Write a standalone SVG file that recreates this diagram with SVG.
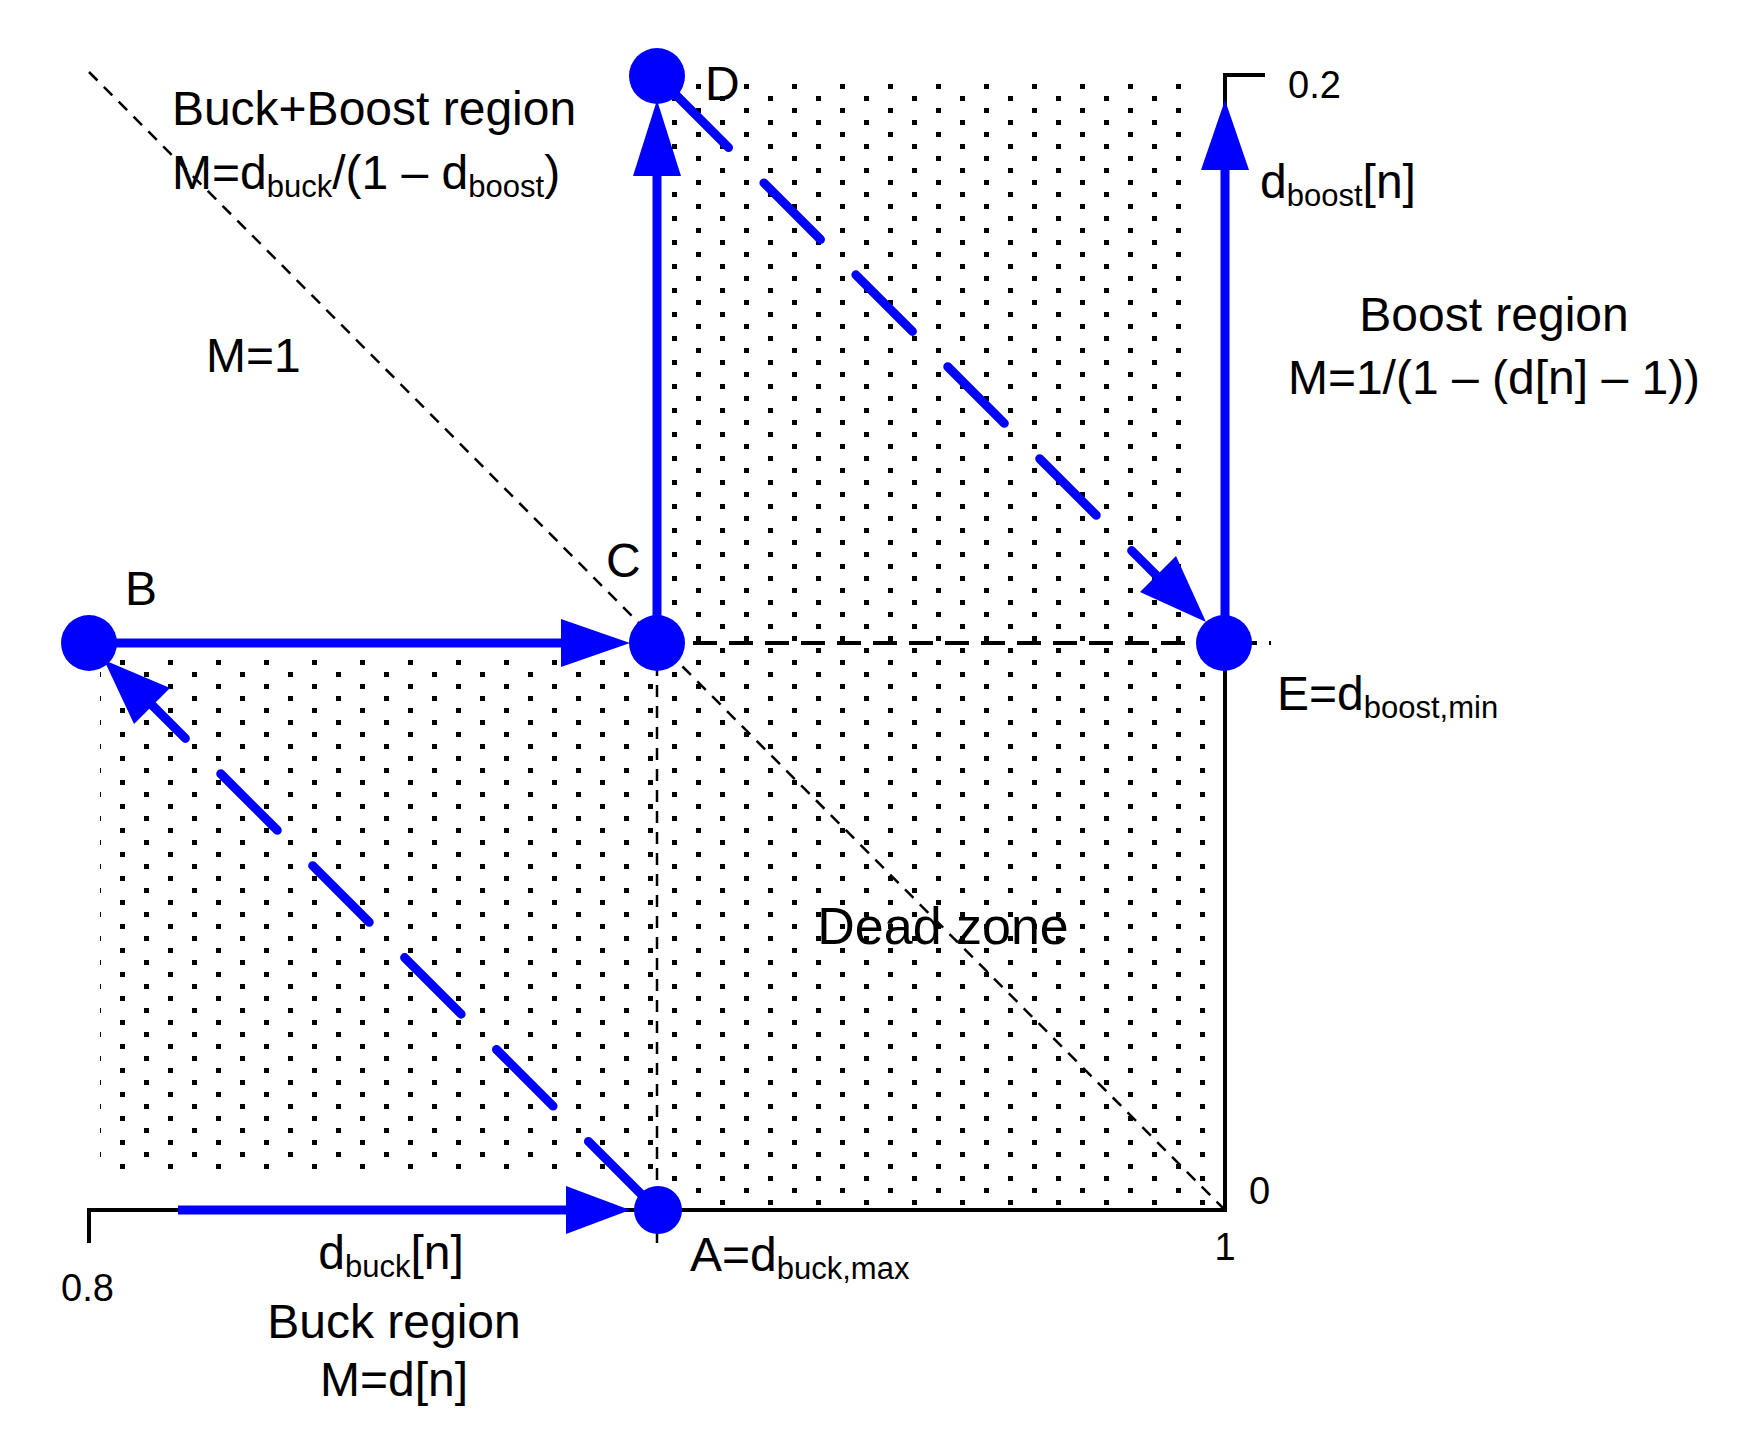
<svg xmlns="http://www.w3.org/2000/svg" width="1741" height="1441" viewBox="0 0 1741 1441">
<defs>
<pattern id="dots" x="0" y="0" width="48" height="24" patternUnits="userSpaceOnUse">
<rect x="0" y="0" width="5" height="5" fill="#000"/>
<rect x="24" y="12" width="5" height="5" fill="#000"/>
</pattern>
<style>
text{font-family:"Liberation Sans",Arial,sans-serif;fill:#000}
.t{font-size:48px}
.s{font-size:31px}
.bl{stroke:#0000ff;stroke-width:9;fill:none}
.bd{stroke:#0000ff;stroke-width:9;fill:none;stroke-dasharray:80 50;stroke-linecap:round}
.hd{fill:#0000ff}
.k{stroke:#000;stroke-width:4;fill:none}
.kd{stroke:#000;stroke-width:2.5;fill:none;stroke-dasharray:12 9}
.kd2{stroke:#000;stroke-width:4;fill:none;stroke-dasharray:24 12}
</style>
</defs>
<rect width="1741" height="1441" fill="#fff"/>
<g id="regions">
<rect x="100" y="655" width="558" height="516" fill="url(#dots)"/>
<rect x="664" y="78" width="520" height="565" fill="url(#dots)"/>
<rect x="664" y="643" width="548" height="562" fill="url(#dots)"/>
</g>
<g id="connectors">
<path class="kd" d="M89,72 L1225,1210"/>
<path class="kd2" d="M657,643 L1271,643"/>
<path class="kd" d="M657,643 L657,1249"/>
<path class="k" d="M89,1243 L89,1210 L1225,1210 L1225,643"/>
<path class="k" d="M1225,170 L1225,75 L1265,75"/>
<path class="bl" d="M657,643 L657,170"/>
<polygon class="hd" points="657,100 633,176 681,176"/>
<path class="bl" d="M1225,643 L1225,165"/>
<polygon class="hd" points="1225,100 1201,170 1249,170"/>
<path class="bl" d="M89,643 L565,643"/>
<polygon class="hd" points="630,643 561,619 561,667"/>
<path class="bl" d="M178,1210 L570,1210"/>
<polygon class="hd" points="630,1210 566,1186 566,1234"/>
<path class="bd" d="M672,91 L1170,589"/>
<polygon class="hd" points="1206,622 1140,592 1176,556"/>
<path class="bd" d="M645,1198 L150,703"/>
<polygon class="hd" points="104,660 170,688 134,724"/>
</g>
<g id="node-A"><circle cx="658" cy="1210" r="24" class="hd"/></g>
<g id="node-B"><circle cx="89" cy="643" r="28" class="hd"/></g>
<g id="node-C"><circle cx="657" cy="643" r="28" class="hd"/></g>
<g id="node-D"><circle cx="657" cy="76" r="28" class="hd"/></g>
<g id="node-E"><circle cx="1224" cy="643" r="28" class="hd"/></g>
<g id="labels">
<text class="t" x="374" y="125" text-anchor="middle">Buck+Boost region</text>
<text class="t" x="172" y="189">M=d<tspan class="s" dy="8">buck</tspan><tspan dy="-8">/(1 – d</tspan><tspan class="s" dy="8">boost</tspan><tspan dy="-8">)</tspan></text>
<text class="t" x="206" y="372">M=1</text>
<text class="t" x="125" y="605">B</text>
<text class="t" x="606" y="577">C</text>
<text class="t" x="705" y="100">D</text>
<text class="t" x="1260" y="198">d<tspan class="s" dy="8">boost</tspan><tspan dy="-8">[n]</tspan></text>
<text x="1288" y="98" style="font-size:38px">0.2</text>
<text class="t" x="1494" y="331" text-anchor="middle">Boost region</text>
<text class="t" x="1494" y="394" text-anchor="middle">M=1/(1 – (d[n] – 1))</text>
<text class="t" x="1277" y="710">E=d<tspan class="s" dy="8">boost,min</tspan></text>
<text class="t" x="943" y="944" text-anchor="middle" style="font-size:52px">Dead zone</text>
<text x="1249" y="1204" style="font-size:38px">0</text>
<text x="1225" y="1260" text-anchor="middle" style="font-size:38px">1</text>
<text class="t" x="690" y="1271">A=d<tspan class="s" dy="8">buck,max</tspan></text>
<text x="61" y="1301" style="font-size:38px">0.8</text>
<text class="t" x="391" y="1269" text-anchor="middle">d<tspan class="s" dy="8">buck</tspan><tspan dy="-8">[n]</tspan></text>
<text class="t" x="394" y="1338" text-anchor="middle">Buck region</text>
<text class="t" x="394" y="1396" text-anchor="middle">M=d[n]</text>
</g>
</svg>
